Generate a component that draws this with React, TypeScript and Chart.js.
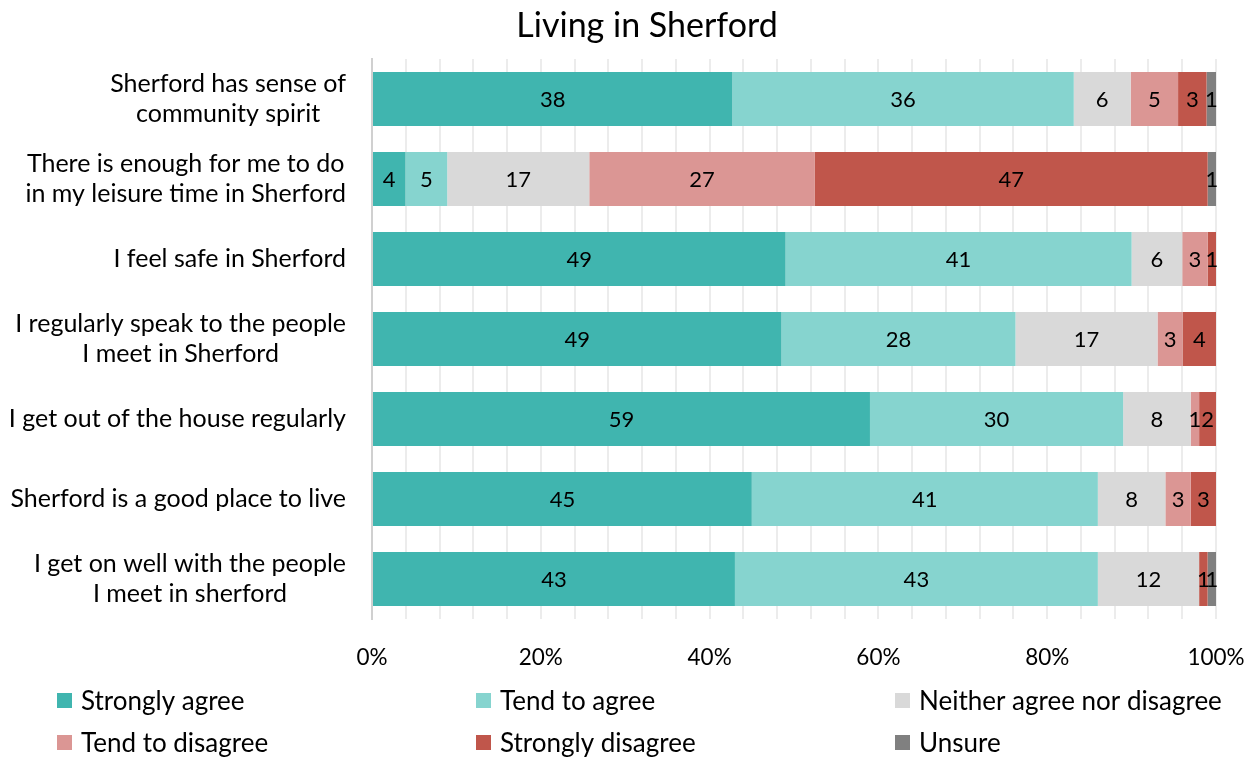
import React, { useEffect, useRef } from "react";
import { Chart, registerables } from "chart.js";

Chart.register(...registerables);

const categories: string[][] = [
  ["Sherford has sense of", "community spirit"],
  ["There is enough for me to do", "in my leisure time in Sherford"],
  ["I feel safe in Sherford"],
  ["I regularly speak to the people", "I meet in Sherford"],
  ["I get out of the house regularly"],
  ["Sherford is a good place to live"],
  ["I get on well with the people", "I meet in sherford"],
];

const seriesNames = [
  "Strongly agree",
  "Tend to agree",
  "Neither agree nor disagree",
  "Tend to disagree",
  "Strongly disagree",
  "Unsure",
];

const stronglyAgree = [38, 4, 49, 49, 59, 45, 43];
const tendToAgree = [36, 5, 41, 28, 30, 41, 43];
const neither = [6, 17, 6, 17, 8, 8, 12];
const tendToDisagree = [5, 27, 3, 3, 1, 3, 0];
const stronglyDisagree = [3, 47, 1, 4, 2, 3, 1];
const unsure = [1, 1, 0, 0, 0, 0, 1];

const seriesValues = [stronglyAgree, tendToAgree, neither, tendToDisagree, stronglyDisagree, unsure];
const seriesColors = ["#40B5AF", "#86D4CF", "#D9D9D9", "#DB9694", "#C0564B", "#808080"];

const xTickLabelStep = 20;
const FONT = "Lato, 'Open Sans', sans-serif";

export default function App() {
  const ref = useRef<HTMLCanvasElement | null>(null);

  useEffect(() => {
    if (!ref.current) return;
    const totals = categories.map((_, i) => seriesValues.reduce((s, arr) => s + arr[i], 0));
    const datasets = seriesValues.map((arr, si) => ({
      label: seriesNames[si],
      data: arr.map((v, i) => (v / totals[i]) * 100),
      raw: arr,
      backgroundColor: seriesColors[si],
      borderWidth: 0,
      barPercentage: 0.675,
      categoryPercentage: 1,
    }));

    const labelPlugin = {
      id: "customDraw",
      afterDatasetsDraw(chart: any) {
        const ctx = chart.ctx;
        ctx.save();
        ctx.font = `22px ${FONT}`;
        ctx.fillStyle = "#000";
        ctx.textAlign = "center";
        ctx.textBaseline = "middle";
        chart.data.datasets.forEach((ds: any, di: number) => {
          const meta = chart.getDatasetMeta(di);
          meta.data.forEach((bar: any, i: number) => {
            const v = ds.raw[i];
            if (!v) return;
            const cx = (bar.x + bar.base) / 2;
            ctx.fillText(String(v), cx, bar.y + 1);
          });
        });
        ctx.restore();
      },
      afterDraw(chart: any) {
        const ctx = chart.ctx;
        ctx.save();
        // y category labels (lines centred within a right-aligned block)
        const yScale = chart.scales.y;
        ctx.font = `25px ${FONT}`;
        ctx.fillStyle = "#000";
        ctx.textAlign = "center";
        ctx.textBaseline = "middle";
        const rightEdge = chart.chartArea.left - 26;
        const lineH = 30;
        categories.forEach((lines, i) => {
          const yc = yScale.getPixelForValue(i);
          const bw = Math.max(...lines.map((l) => ctx.measureText(l).width));
          const cx = rightEdge - bw / 2;
          lines.forEach((l, li) => {
            const y = yc + (li - (lines.length - 1) / 2) * lineH;
            ctx.fillText(l, cx, y);
          });
        });
        // title
        ctx.font = `34px ${FONT}`;
        ctx.textAlign = "center";
        ctx.fillText("Living in Sherford", 647, 26);
        // legend
        const cols = [57, 476, 895];
        const rows = [701, 743];
        ctx.font = `26px ${FONT}`;
        ctx.textAlign = "left";
        seriesNames.forEach((name, i) => {
          const x = cols[i % 3];
          const y = rows[Math.floor(i / 3)];
          ctx.fillStyle = seriesColors[i];
          ctx.fillRect(x, y - 8, 15, 15);
          ctx.fillStyle = "#000";
          ctx.fillText(name, x + 24, y + 1);
        });
        ctx.restore();
      },
    };

    const chart = new Chart(ref.current, {
      type: "bar",
      data: { labels: categories.map((c) => c.join(" ")), datasets: datasets as any },
      options: {
        indexAxis: "y",
        animation: false,
        responsive: false,
        maintainAspectRatio: false,
        layout: { padding: { top: 59, right: 42, left: 0, bottom: 0 } },
        plugins: {
          legend: { display: false },
          title: { display: false },
          tooltip: { enabled: false },
        },
        scales: {
          x: {
            stacked: true,
            min: 0,
            max: 100,
            afterFit(scale: any) {
              scale.height = 139;
              scale.paddingRight = 0;
              scale.paddingLeft = 0;
            },
            ticks: {
              stepSize: 4,
              autoSkip: false,
              maxRotation: 0,
              padding: 25,
              color: "#000",
              font: { family: FONT, size: 22.5 },
              callback: (v: any) => (Math.round(v) % xTickLabelStep === 0 ? `${Math.round(v)}%` : ""),
            },
            grid: { color: "#ececec", lineWidth: 2, drawTicks: false },
            border: { display: false },
          },
          y: {
            stacked: true,
            afterFit(scale: any) {
              scale.width = 372;
              scale.paddingTop = 0;
              scale.paddingBottom = 0;
            },
            ticks: { display: false },
            grid: { display: false, drawTicks: false },
            border: { display: true, color: "#d0d0d0", width: 2 },
          },
        },
      },
      plugins: [labelPlugin],
    });
    return () => chart.destroy();
  }, []);

  return (
    <div style={{ position: "absolute", left: 0, top: 0, width: 1258, height: 758, background: "#fff" }}>
      <canvas ref={ref} width={1258} height={758} style={{ width: 1258, height: 758, display: "block" }} />
    </div>
  );
}
